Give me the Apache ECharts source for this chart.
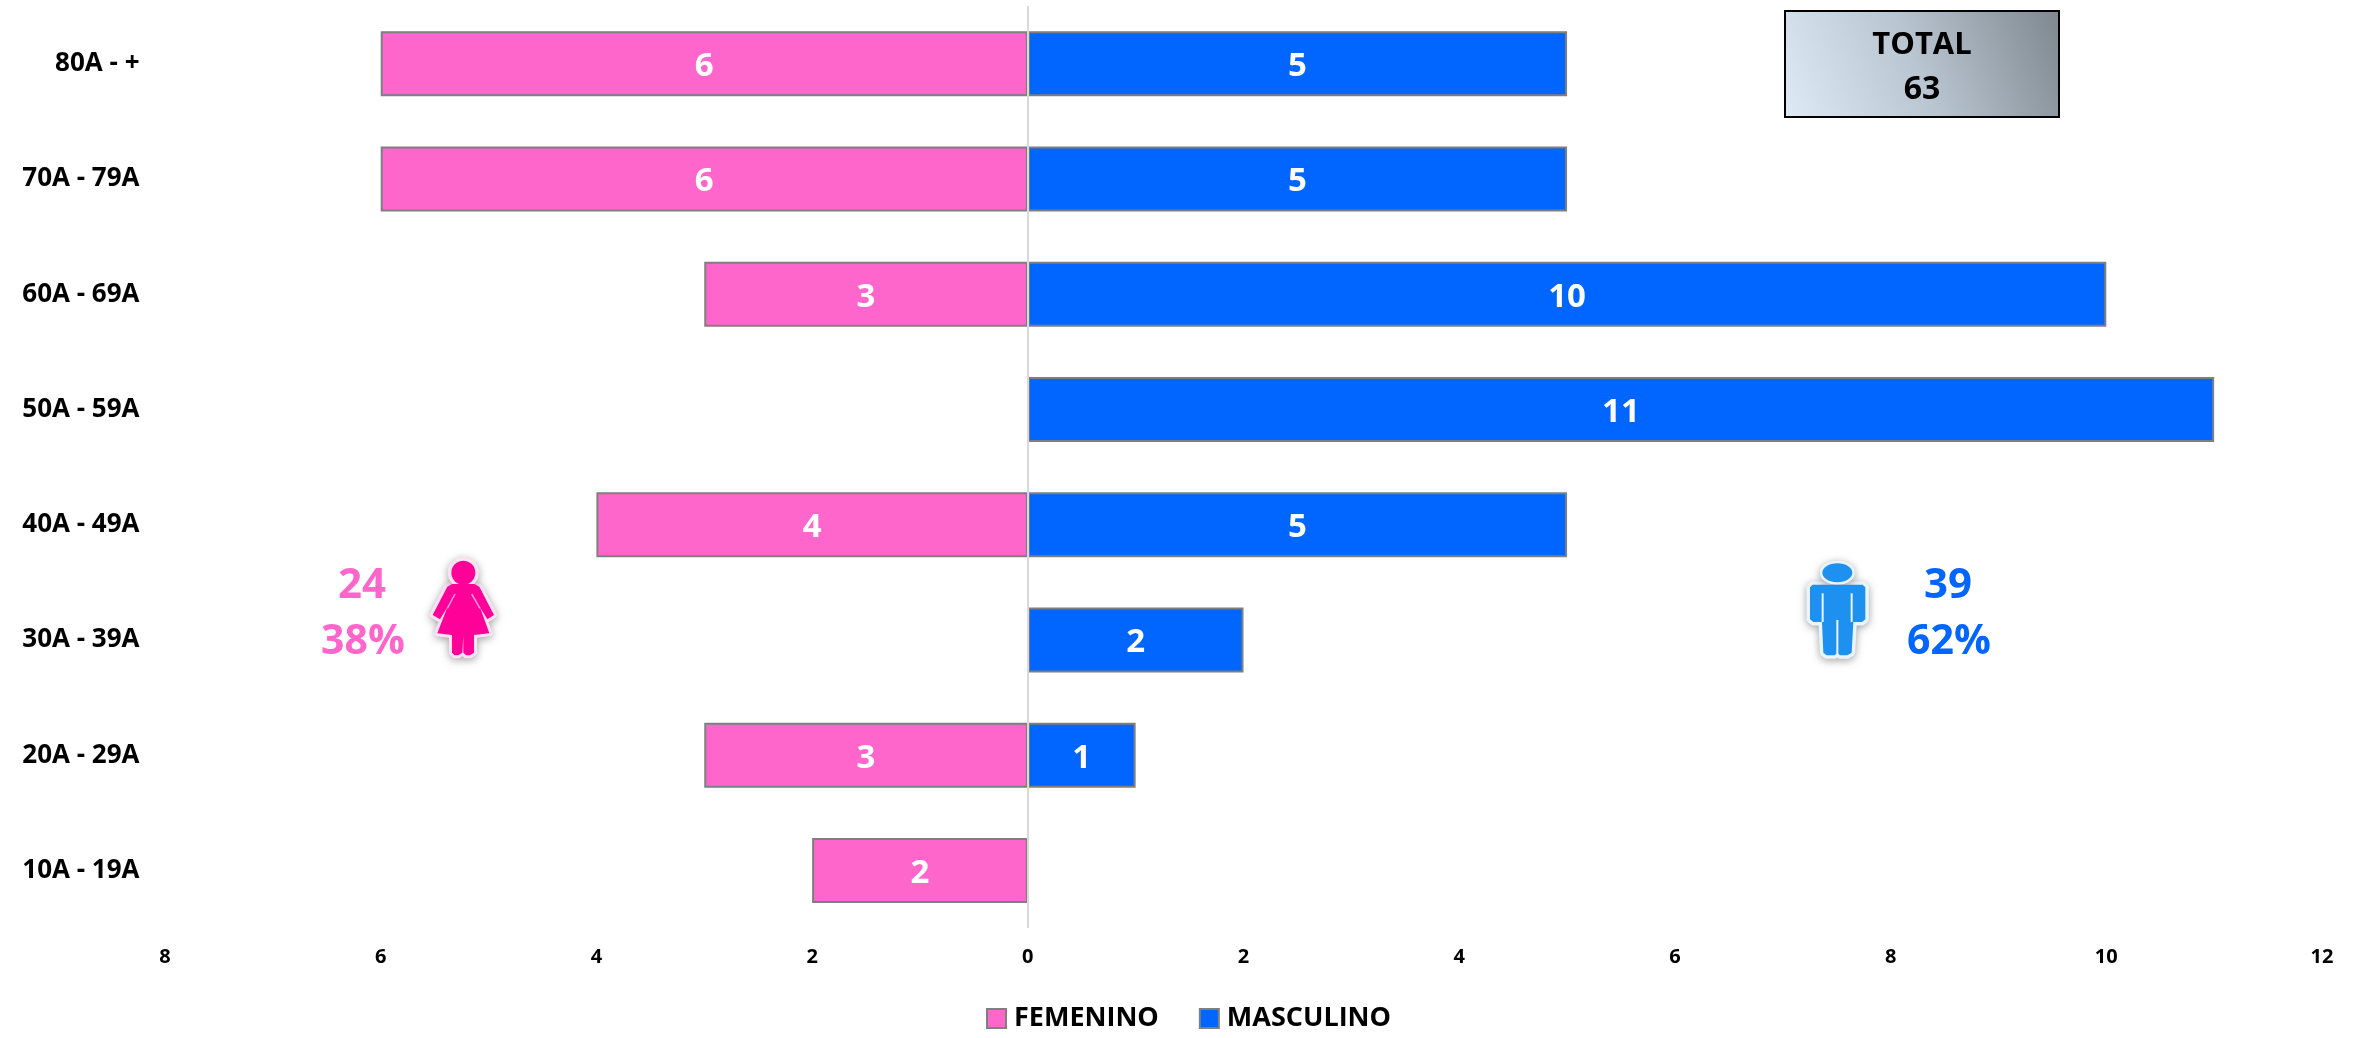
<!DOCTYPE html>
<html><head><meta charset="utf-8">
<style>html,body{margin:0;padding:0;background:#fff}#c{width:2356px;height:1038px}</style>
<script src="https://cdn.jsdelivr.net/npm/echarts@6/dist/echarts.min.js"></script>
</head><body><div id="c"></div>
<script>
const categories = ['10A - 19A','20A - 29A','30A - 39A','40A - 49A','50A - 59A','60A - 69A','70A - 79A','80A - +'];
const femenino = [2,3,null,4,null,3,6,6];
const masculino = [null,1,2,5,11,10,5,5];
const xTicks = {min:-8,max:12,interval:2};
const totalLines = ['TOTAL','63'];
const femLines = ['24','38%'];
const masLines = ['39','62%'];
const FONT = '"Open Sans"';
const PINK = '#FF66CC', BLUE = '#0066FF', EDGE = '#7F7F7F';

const chart = echarts.init(document.getElementById('c'), null, {renderer:'canvas'});

function labelCfg(){return {show:true,position:'inside',offset:[0,3],color:'#fff',fontFamily:FONT,fontWeight:'bold',fontSize:33,
  formatter:p=>Math.abs(p.value)};}

const halo = {shadowBlur:8,shadowColor:'rgba(90,90,90,0.45)',shadowOffsetY:2};
function t(x,y,text,size,color){return {type:'text',x,y,silent:true,style:{text,fontFamily:FONT,fontWeight:'bold',fontSize:size,fill:color,align:'center',verticalAlign:'middle'}};}
function poly(ox,oy,pts,style){return {type:'polygon',silent:true,shape:{points:pts.map(p=>[ox+p[0]/3,oy+p[1]/3])},style};}

const FOX=250,FOY=520,FC='#FF0099';
const fBody=[[607,192],[673,192],[688,200],[732,285],[712,298],[690,262],[718,340],[672,345],[672,398],[660,406],[648,406],[640,398],[640,345],[637,398],[625,406],[614,406],[606,398],[606,345],[562,340],[592,262],[570,298],[548,285],[592,200]];
const MOX=1760,MOY=520,MC='#1E90F0';
const mBody=[[158,194],[308,194],[316,202],[316,298],[306,306],[280,306],[275,398],[262,406],[240,406],[232,398],[224,406],[200,406],[190,398],[186,306],[160,306],[150,298],[150,202]];

const graphics=[
 {type:'rect',silent:true,shape:{x:1785,y:11,width:274,height:106},
  style:{fill:new echarts.graphic.LinearGradient(0,1.1,1,0.05,[{offset:0,color:'#DFEBF7'},{offset:0.5,color:'#B8C4D0'},{offset:1,color:'#7F888F'}]),stroke:'#000',lineWidth:2}},
 t(1922,45,totalLines[0],31,'#000'),
 t(1922,90,totalLines[1],32,'#000'),
 t(362,586,femLines[0],42,PINK),
 t(363,642,femLines[1],41,PINK),
 t(1948,586,masLines[0],42,BLUE),
 t(1949,642,masLines[1],41,BLUE),
 {type:'polygon',silent:true,shape:{points:fBody.map(p=>[FOX+p[0]/3,FOY+p[1]/3])},style:Object.assign({fill:FC,stroke:'#FBE3F3',lineWidth:6,lineJoin:'round'},halo)},
 {type:'circle',silent:true,shape:{cx:FOX+640/3,cy:FOY+158/3,r:13},style:Object.assign({fill:FC,stroke:'#FBE3F3',lineWidth:5},halo)},
 poly(FOX,FOY,fBody,{fill:FC}),
 {type:'circle',silent:true,shape:{cx:FOX+640/3,cy:FOY+158/3,r:12},style:{fill:FC}},
 {type:'line',silent:true,shape:{x1:FOX+615/3,y1:FOY+222/3,x2:FOX+592/3,y2:FOY+265/3},style:{stroke:'#FF9AD8',lineWidth:1.5}},
 {type:'line',silent:true,shape:{x1:FOX+665/3,y1:FOY+222/3,x2:FOX+690/3,y2:FOY+265/3},style:{stroke:'#FF9AD8',lineWidth:1.5}},
 {type:'polygon',silent:true,shape:{points:mBody.map(p=>[MOX+p[0]/3,MOY+p[1]/3])},style:Object.assign({fill:MC,stroke:'#EAF4FC',lineWidth:7,lineJoin:'round'},halo)},
 {type:'ellipse',silent:true,shape:{cx:MOX+232/3,cy:MOY+158/3,rx:15,ry:9.5},style:Object.assign({fill:MC,stroke:'#EAF4FC',lineWidth:5},halo)},
 poly(MOX,MOY,mBody,{fill:MC}),
 {type:'ellipse',silent:true,shape:{cx:MOX+232/3,cy:MOY+158/3,rx:15,ry:9.5},style:{fill:MC}},
 {type:'line',silent:true,shape:{x1:MOX+188/3,y1:MOY+220/3,x2:MOX+188/3,y2:MOY+306/3},style:{stroke:'#EAF4FC',lineWidth:2}},
 {type:'line',silent:true,shape:{x1:MOX+275/3,y1:MOY+220/3,x2:MOX+275/3,y2:MOY+306/3},style:{stroke:'#EAF4FC',lineWidth:2}},
 {type:'line',silent:true,shape:{x1:MOX+232/3,y1:MOY+300/3,x2:MOX+232/3,y2:MOY+406/3},style:{stroke:'#EAF4FC',lineWidth:2}}
];

chart.setOption({
 animation:false,
 backgroundColor:'#fff',
 textStyle:{fontFamily:FONT},
 grid:{left:165,right:34,top:6,height:922,containLabel:false},
 legend:{left:986,top:1005,padding:0,icon:'rect',itemWidth:19,itemHeight:19,itemGap:40,data:['FEMENINO','MASCULINO'],
   textStyle:{fontFamily:FONT,fontWeight:'bold',fontSize:27,color:'#000',padding:[0,0,0,3]}},
 xAxis:{type:'value',position:'bottom',min:xTicks.min,max:xTicks.max,interval:xTicks.interval,
   axisLine:{show:false},axisTick:{show:false},splitLine:{show:false},
   axisLabel:{margin:19,color:'#000',fontFamily:FONT,fontWeight:'bold',fontSize:20,formatter:v=>Math.abs(v)}},
 yAxis:{type:'category',data:categories,axisLine:{show:false},axisTick:{show:false},
   axisLabel:{margin:25.5,color:'#000',fontFamily:FONT,fontWeight:'bold',fontSize:26,padding:[6,0,0,0]}},
 series:[
  {name:'FEMENINO',type:'bar',stack:'p',barWidth:65,data:femenino.map(v=>v==null?null:-v),
   itemStyle:{color:PINK,borderColor:EDGE,borderWidth:2},label:labelCfg(),
   markLine:{silent:true,symbol:'none',label:{show:false},lineStyle:{color:'#D9D9D9',width:2,type:'solid'},data:[{xAxis:0}]}},
  {name:'MASCULINO',type:'bar',stack:'p',barWidth:65,data:masculino,
   itemStyle:{color:BLUE,borderColor:EDGE,borderWidth:2},label:labelCfg()}
 ],
 graphic:graphics
});
</script></body></html>
